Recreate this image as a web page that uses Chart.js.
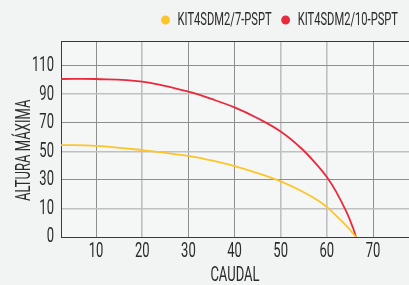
<!DOCTYPE html>
<html><head><meta charset="utf-8">
<script src="https://cdn.jsdelivr.net/npm/chart.js@4.4.1/dist/chart.umd.min.js"></script>
<style>html,body{margin:0;padding:0;background:#f2f3f3;}canvas{display:block}</style>
</head><body>
<canvas id="c" width="409" height="285"></canvas>
<script>
// ---- data ----
const seriesNames = ['KIT4SDM2/7-PSPT', 'KIT4SDM2/10-PSPT'];
const flow   = [2.4, 10, 20, 30, 35, 40, 45, 50, 54.5, 58, 60, 62, 64.3, 65.7, 66.3];
const head7  = [64.4, 63.9, 60.9, 56.8, 53.6, 49.7, 44.8, 39.0, 32.2, 25.7, 21.0, 15.0, 7.6, 2.4, 0];
const head10 = [110.7, 110.7, 108.8, 101.8, 96.7, 90.8, 83.2, 73.9, 62.0, 50.0, 42.0, 31.8, 17.2, 6.1, 0];
const xTickValues = [10, 20, 30, 40, 50, 60, 70];
const yTickValues = [0, 20, 40, 60, 80, 100, 120];
const yTickLabels = ['0', '10', '30', '50', '70', '90', '110'];
const xTitle = 'CAUDAL';
const yTitle = 'ALTURA MÁXIMA';

// condensed text rendering (horizontal squeeze of real text)
const S = 0.62;
const canvas = document.getElementById('c');
const g = canvas.getContext('2d');
const _fill = g.fillText.bind(g), _measure = g.measureText.bind(g);
g.fillText = function (t, x, y, mw) {
  g.save(); g.translate(x, y); g.scale(S, 1);
  if (mw === undefined) _fill(t, 0, 0); else _fill(t, 0, 0, mw / S);
  g.restore();
};
g.measureText = function (t) {
  const m = _measure(t);
  return {width: m.width * S, actualBoundingBoxAscent: m.actualBoundingBoxAscent,
    actualBoundingBoxDescent: m.actualBoundingBoxDescent,
    actualBoundingBoxLeft: m.actualBoundingBoxLeft * S, actualBoundingBoxRight: m.actualBoundingBoxRight * S,
    fontBoundingBoxAscent: m.fontBoundingBoxAscent, fontBoundingBoxDescent: m.fontBoundingBoxDescent};
};

const TXT = '#2b2b2b';
const FAM = 'Roboto, "Liberation Sans", sans-serif';
const lightX = [20, 50, 60];
const lightY = [20, 60, 100];

const bgPlugin = {
  id: 'bg',
  beforeDraw(chart) {
    const {ctx, chartArea: a} = chart;
    ctx.save();
    ctx.fillStyle = '#f2f3f3';
    ctx.fillRect(0, 0, chart.width, chart.height);
    ctx.fillStyle = '#f5f6f6';
    ctx.fillRect(a.left, a.top, a.right - a.left, a.bottom - a.top);
    ctx.restore();
  }
};
const yTitlePlugin = {
  id: 'ytitle',
  afterDraw(chart) {
    const {ctx, chartArea: a} = chart;
    ctx.save();
    ctx.translate(25, (a.top + a.bottom) / 2 + 11);
    ctx.rotate(-Math.PI / 2);
    ctx.font = '21px ' + FAM;
    ctx.fillStyle = TXT;
    ctx.textAlign = 'center';
    ctx.textBaseline = 'middle';
    ctx.fillText(yTitle, 0, 0);
    ctx.restore();
  }
};

new Chart(g, {
  type: 'line',
  data: {
    datasets: [
      {label: seriesNames[0], data: flow.map((x, i) => ({x, y: head7[i]})),
       borderColor: '#fcc52a', backgroundColor: '#fcc52a', borderWidth: 1.8,
       pointRadius: 0, tension: 0.4, fill: false},
      {label: seriesNames[1], data: flow.map((x, i) => ({x, y: head10[i]})),
       borderColor: '#ea2a3c', backgroundColor: '#ea2a3c', borderWidth: 1.8,
       pointRadius: 0, tension: 0.4, fill: false}
    ]
  },
  options: {
    responsive: false, animation: false, devicePixelRatio: 1,
    layout: {padding: 0},
    plugins: {
      legend: {
        position: 'top', align: 'end',
        labels: {usePointStyle: true, pointStyle: 'circle', boxWidth: 6, boxHeight: 5,
                 padding: 11, color: TXT, font: {family: FAM, size: 18}}
      },
      tooltip: {enabled: false}
    },
    scales: {
      x: {
        type: 'linear', min: 2.4, max: 77.8,
        afterBuildTicks: s => { s.ticks = xTickValues.map(v => ({value: v})); },
        afterFit: s => { s.height = 48; },
        ticks: {color: TXT, font: {family: FAM, size: 21}, padding: 2, maxRotation: 0, autoSkip: false},
        grid: {drawTicks: false,
               color: c => lightX.includes(c.tick && c.tick.value) ? '#c0c0c0' : '#8e8e8e',
               lineWidth: c => lightX.includes(c.tick && c.tick.value) ? 1.6 : 1},
        border: {color: '#3a3a3a', width: 1},
        title: {display: true, text: xTitle, color: TXT, font: {family: FAM, size: 21, lineHeight: 0.9}, padding: 0}
      },
      x2: {
        type: 'linear', position: 'top', min: 0, max: 1,
        afterFit: s => { s.height = 2.45; },
        ticks: {display: false}, grid: {display: false, drawTicks: false},
        border: {display: true, color: '#3a3a3a', width: 1}
      },
      y: {
        type: 'linear', min: 0, max: 137,
        afterBuildTicks: s => { s.ticks = yTickValues.map(v => ({value: v})); },
        afterFit: s => { s.width = 61; },
        ticks: {color: TXT, font: {family: FAM, size: 21}, padding: 7,
                callback: v => yTickLabels[yTickValues.indexOf(v)]},
        grid: {drawTicks: false,
               color: c => (c.tick && c.tick.value === 0) ? 'rgba(0,0,0,0)' :
                 (lightY.includes(c.tick && c.tick.value) ? '#c0c0c0' : '#8e8e8e'),
               lineWidth: c => lightY.includes(c.tick && c.tick.value) ? 1.6 : 1},
        border: {color: '#3a3a3a', width: 1}
      }
    }
  },
  plugins: [bgPlugin, yTitlePlugin]
});
</script>
</body></html>
